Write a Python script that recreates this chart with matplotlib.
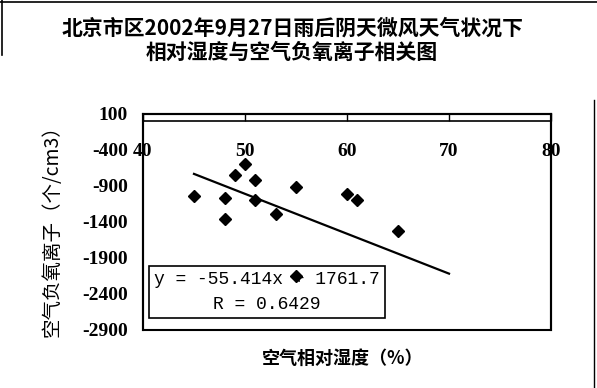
import matplotlib
matplotlib.use("Agg")
import matplotlib.pyplot as plt
from matplotlib.lines import Line2D
from matplotlib.patches import Rectangle

plt.rcParams['font.family'] = ['Noto Sans CJK SC', 'DejaVu Sans']

# --- data ---
humidity = [45, 48, 48, 49, 50, 51, 51, 53, 55, 60, 61, 65, 55]
neg_ions = [-1043, -1065, -1357, -741, -588, -810, -1088, -1287, -912, -1009, -1088, -1529, -2155]

slope = -55.414
intercept = 1761.7
r_value = 0.6429
trend_x = [45, 70]

x_ticks = [40, 50, 60, 70, 80]
y_ticks = [100, -400, -900, -1400, -1900, -2400, -2900]

title_1 = "北京市区2002年9月27日雨后阴天微风天气状况下"
title_2 = "相对湿度与空气负氧离子相关图"
x_label = "空气相对湿度（%）"
y_label = "空气负氧离子（个/cm3）"

# --- figure ---
fig = plt.figure(figsize=(5.97, 3.88), dpi=100)
ax = fig.add_axes([0.2395, 0.1495, 0.6835, 0.5567])

ax.plot(humidity, neg_ions, 'D', color='black', markersize=6.5, zorder=6, clip_on=False)
trend_y = [slope * x + intercept for x in trend_x]
ax.plot(trend_x, trend_y, color='black', linewidth=1.6, zorder=3)

ax.set_xlim(x_ticks[0], x_ticks[-1])
ax.set_ylim(y_ticks[-1], y_ticks[0])

# x axis crosses at y = 0, plot area keeps its own frame
ax.spines['bottom'].set_position(('data', 0))
ax.spines['bottom'].set_linewidth(1.2)
for s in ['top', 'left', 'right']:
    ax.spines[s].set_linewidth(1.5)
ax.add_patch(Rectangle((0, 0), 1, 1, transform=ax.transAxes, fill=False,
                       edgecolor='black', linewidth=1.5, clip_on=False, zorder=4))

tick_font = dict(family='Liberation Serif', size=14, weight='bold')
ax.set_xticks(x_ticks)
ax.set_xticklabels([str(v) for v in x_ticks], **tick_font)
ax.set_yticks(y_ticks)
ax.set_yticklabels([str(v) for v in y_ticks], **tick_font)
ax.tick_params(axis='x', direction='in', length=6, width=1, pad=16)
ax.tick_params(axis='y', length=0, pad=11)

# equation box (inside the axes so the markers can sit on top of it)
eq_text = "y = %.3fx + %.1f\nR = %.4f" % (slope, intercept, r_value)
ax.text(267 / 597, 1 - 292 / 388, eq_text, transform=fig.transFigure,
        ha='center', va='center', multialignment='center',
        family='Liberation Mono', fontsize=13, linespacing=1.55, zorder=5,
        bbox=dict(boxstyle='square,pad=0.3', facecolor='white',
                  edgecolor='black', linewidth=1.2))

fig.text(293 / 597, 1 - 28 / 388, title_1, ha='center', va='center',
         fontsize=15, weight='bold')
fig.text(292 / 597, 1 - 52 / 388, title_2, ha='center', va='center',
         fontsize=15, weight='bold')
fig.text(343 / 597, 1 - 358 / 388, x_label, ha='center', va='center',
         fontsize=13, weight='bold')
fig.text(52 / 597, 1 - 226 / 388, y_label, ha='center', va='center',
         rotation=90, fontsize=14)

# outer chart frame (partial, as in the scan)
fig.add_artist(Line2D([0, 1], [1 - 1.5 / 388] * 2, color='black', linewidth=1.2))
fig.add_artist(Line2D([2 / 597] * 2, [1, 1 - 55 / 388], color='black', linewidth=1.2))
fig.add_artist(Line2D([594 / 597] * 2, [1 - 100 / 388, 0], color='black', linewidth=1.0))

fig.savefig("out.png", dpi=100)
